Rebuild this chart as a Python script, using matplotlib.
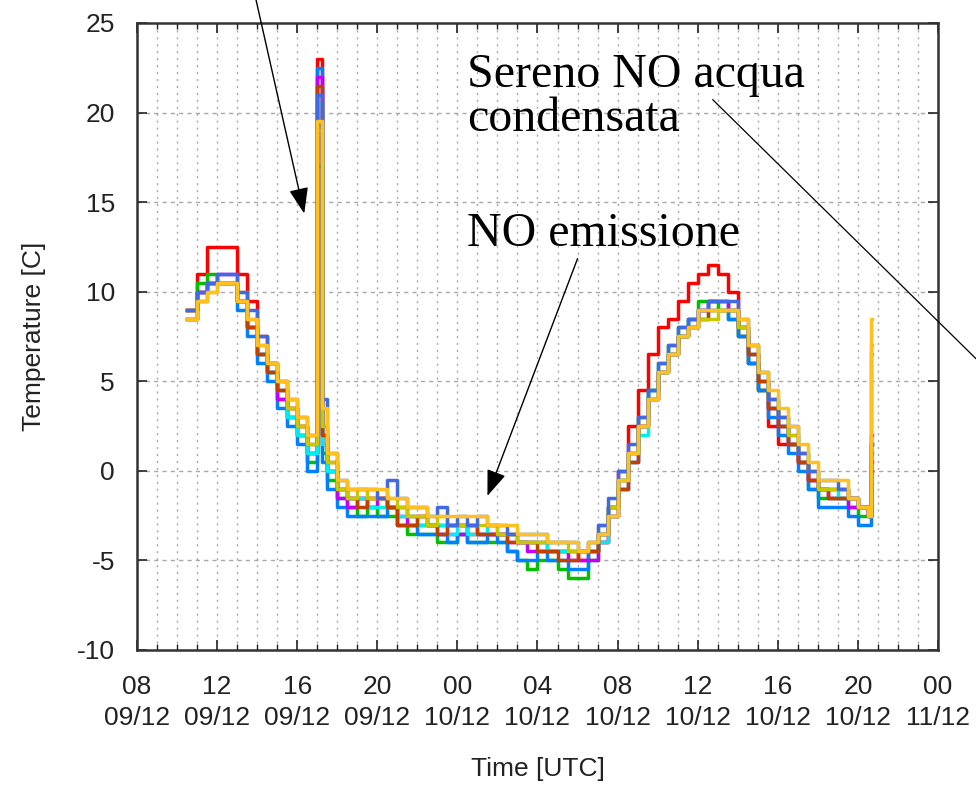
import matplotlib
matplotlib.use("Agg")
import matplotlib.pyplot as plt

plt.rcParams['font.family'] = ['Liberation Sans', 'DejaVu Sans']
plt.rcParams['axes.unicode_minus'] = False

# ore trascorse dalle 08 UTC del 09/12
hours = [2.5, 3.0, 3.5, 4.0, 4.5, 5.0, 5.5, 6.0, 6.5, 7.0, 7.5, 8.0, 8.5, 9.0,
         9.25,
         9.5, 10.0, 10.5, 11.0, 11.5, 12.0, 12.5, 13.0, 13.5, 14.0, 14.5,
         15.0, 15.5, 16.0, 16.5, 17.0, 17.5, 18.0, 18.5, 19.0, 19.5, 20.0,
         20.5, 21.0, 21.5, 22.0, 22.5, 23.0, 23.5, 24.0, 24.5, 25.0, 25.5,
         26.0, 26.5, 27.0, 27.5, 28.0, 28.5, 29.0, 29.5, 30.0, 30.5, 31.0,
         31.5, 32.0, 32.5, 33.0, 33.5, 34.0, 34.5, 35.0, 35.5, 36.0, 36.5,
         36.65, 36.7]

# temperature dei sensori [C]
t_red = [9.0, 11.0, 12.5, 12.5, 12.5, 11.0, 9.5, 7.5, 6.0, 4.5, 3.5, 2.5, 1.0, 23.0,
         2.0,
         0.0, -1.0, -1.5, -1.5, -1.5, -1.5, -2.0, -2.0, -2.5, -2.5, -3.0,
         -3.0, -3.0, -3.0, -3.5, -3.5, -3.5, -3.5, -3.5, -4.0, -4.0, -4.0,
         -4.5, -4.5, -4.5, -5.0, -4.5, -4.0, -2.0, 0.0, 2.5, 4.5, 6.5,
         8.0, 8.5, 9.5, 10.5, 11.0, 11.5, 11.0, 10.0, 7.5, 6.0, 4.5,
         2.5, 1.5, 1.5, 0.5, -0.5, -1.0, -1.0, -1.0, -1.5, -2.0, -2.5,
         0.5, 0.5]
t_green = [9.0, 10.5, 11.0, 10.5, 10.5, 9.5, 8.0, 6.5, 5.5, 4.0, 3.0, 2.0, 0.5, 17.0,
           1.0,
           -0.5, -1.5, -2.0, -2.5, -2.0, -2.5, -2.5, -3.0, -3.5, -3.5, -3.5,
           -4.0, -4.0, -3.5, -4.0, -4.0, -4.0, -4.0, -4.5, -5.0, -5.5, -5.0,
           -5.0, -5.5, -6.0, -6.0, -5.0, -3.5, -2.0, -0.5, 1.0, 3.0, 4.5,
           6.0, 7.0, 8.0, 8.5, 9.5, 9.5, 9.0, 8.5, 7.5, 6.0, 4.5,
           3.5, 2.5, 1.5, 0.5, -1.0, -1.5, -1.5, -1.5, -2.0, -2.5, -2.5,
           1.0, 1.0]
t_blue = [8.5, 10.0, 10.5, 10.5, 10.5, 9.0, 7.5, 6.0, 5.0, 3.5, 2.5, 1.5, 0.0, 22.5,
          0.5,
          -1.0, -2.0, -2.5, -2.5, -2.5, -2.5, -2.0, -3.0, -3.0, -3.5, -3.5,
          -3.5, -4.0, -3.5, -4.0, -4.0, -3.5, -4.0, -4.5, -5.0, -5.0, -4.5,
          -5.0, -5.0, -5.5, -5.5, -4.5, -3.5, -2.0, -0.5, 1.0, 2.5, 4.5,
          5.5, 6.5, 7.5, 8.5, 9.0, 9.5, 9.5, 8.5, 7.5, 6.0, 4.5,
          3.0, 2.0, 1.0, 0.0, -1.0, -2.0, -2.0, -2.0, -2.5, -3.0, -3.0,
          1.5, 1.5]
t_magenta = [8.5, 10.0, 10.5, 11.0, 11.0, 9.5, 8.0, 6.5, 5.5, 4.0, 3.0, 2.0, 1.0, 22.0,
             1.5,
             0.0, -1.5, -2.0, -1.5, -2.0, -1.5, -2.0, -2.5, -3.0, -3.0, -3.0,
             -3.5, -3.5, -3.5, -3.0, -3.5, -3.5, -3.5, -4.0, -4.0, -4.5, -4.5,
             -4.5, -4.5, -5.0, -5.0, -5.0, -4.0, -2.5, -1.0, 0.5, 2.5, 4.0,
             5.5, 6.5, 7.5, 8.0, 9.0, 9.5, 9.5, 9.0, 8.0, 6.5, 5.0,
             3.5, 2.5, 1.5, 0.5, -0.5, -1.0, -1.5, -1.5, -2.0, -2.0, -2.5,
             2.0, 2.0]
t_cyan = [8.5, 9.5, 10.5, 10.5, 10.5, 9.5, 8.0, 6.5, 5.5, 4.5, 3.0, 2.0, 1.0, 20.5,
          1.5,
          0.0, -1.0, -1.5, -1.5, -2.0, -2.0, -2.0, -2.5, -2.5, -3.0, -3.0,
          -3.0, -3.5, -3.0, -3.5, -3.5, -3.0, -3.5, -3.5, -4.0, -4.0, -4.0,
          -4.5, -4.5, -4.5, -4.5, -4.5, -4.0, -2.5, -1.0, 0.5, 2.0, 4.0,
          5.5, 6.5, 7.5, 8.0, 8.5, 9.0, 9.0, 9.0, 8.0, 6.5, 5.0,
          4.0, 3.0, 2.0, 1.0, 0.0, -1.0, -1.0, -1.5, -1.5, -2.0, -2.5,
          6.5, 6.5]
t_brown = [9.0, 10.0, 10.5, 10.5, 10.5, 9.5, 8.0, 6.5, 5.5, 4.5, 3.5, 2.5, 1.5, 21.5,
           2.0,
           0.5, -1.0, -1.5, -2.0, -1.5, -1.5, -2.0, -3.0, -3.0, -2.5, -3.0,
           -3.5, -3.0, -3.0, -3.0, -3.5, -3.5, -3.5, -4.0, -4.0, -4.0, -4.5,
           -4.5, -5.0, -5.0, -4.5, -4.5, -3.5, -2.5, -1.0, 0.5, 2.5, 4.0,
           5.5, 6.5, 7.5, 8.0, 8.5, 9.0, 9.0, 9.0, 8.0, 6.5, 5.0,
           3.5, 2.5, 1.5, 0.5, -0.5, -1.0, -1.5, -1.5, -1.5, -2.0, -2.5,
           0.0, 0.0]
t_olive = [8.5, 9.5, 10.0, 10.5, 10.5, 10.0, 8.5, 7.0, 6.0, 5.0, 3.5, 2.5, 1.5, 19.0,
           2.5,
           0.5, -1.0, -1.5, -1.0, -1.5, -1.5, -1.5, -2.0, -2.5, -2.5, -3.0,
           -2.5, -3.0, -3.0, -3.0, -3.0, -3.0, -3.5, -3.5, -4.0, -4.0, -4.0,
           -4.0, -4.0, -4.5, -4.5, -4.0, -3.0, -2.0, -0.5, 1.0, 2.5, 4.0,
           5.5, 6.5, 7.5, 8.0, 8.5, 8.5, 9.0, 9.0, 8.0, 7.0, 5.5,
           4.0, 3.0, 2.0, 1.0, 0.0, -1.0, -1.0, -1.0, -1.5, -2.0, -2.0,
           7.0, 7.0]
t_royal = [9.0, 10.0, 10.5, 11.0, 11.0, 10.0, 9.0, 7.5, 6.0, 5.0, 4.0, 3.0, 2.0, 21.0,
           4.0,
           1.0, -0.5, -1.0, -1.0, -1.0, -1.5, -0.5, -1.5, -2.0, -2.0, -2.5,
           -2.0, -3.0, -2.5, -3.0, -2.5, -3.0, -3.0, -3.5, -3.5, -3.5, -3.5,
           -4.0, -4.0, -4.0, -4.5, -4.0, -3.0, -1.5, 0.0, 1.5, 3.0, 4.5,
           6.0, 7.0, 8.0, 8.5, 9.0, 9.5, 9.5, 9.5, 8.5, 7.0, 5.5,
           4.0, 3.0, 2.5, 1.0, 0.0, -0.5, -0.5, -1.0, -1.5, -2.0, -2.5,
           1.5, 1.5]
t_orange = [8.5, 9.5, 10.0, 10.5, 10.5, 9.5, 8.5, 7.0, 6.0, 5.0, 4.0, 3.0, 2.0, 19.5,
            3.5,
            1.0, -0.5, -1.0, -1.0, -1.0, -1.0, -1.5, -1.5, -2.0, -2.0, -2.5,
            -2.5, -2.5, -2.5, -2.5, -2.5, -3.0, -3.0, -3.0, -3.5, -3.5, -3.5,
            -4.0, -4.0, -4.0, -4.5, -4.0, -3.5, -2.5, -0.5, 1.0, 2.5, 4.0,
            5.5, 6.5, 7.5, 8.0, 9.0, 9.0, 9.0, 9.0, 8.5, 7.0, 5.5,
            4.5, 3.5, 2.5, 1.5, 0.5, -0.5, -0.5, -0.5, -1.5, -2.0, -2.5,
            8.5, 8.5]

series = [t_red, t_green, t_blue, t_magenta, t_cyan, t_brown, t_olive, t_royal, t_orange]
colors = ['#ff0000', '#00c000', '#0080ff', '#c000ff', '#00eeee',
          '#c04000', '#c8c800', '#4169e1', '#ffc020']

tick_hours = [0, 4, 8, 12, 16, 20, 24, 28, 32, 36, 40]
tick_labels = ['08\n09/12', '12\n09/12', '16\n09/12', '20\n09/12', '00\n10/12',
               '04\n10/12', '08\n10/12', '12\n10/12', '16\n10/12', '20\n10/12',
               '00\n11/12']

fig = plt.figure(figsize=(9.76, 7.85), dpi=100)
ax = fig.add_axes([0.1404, 0.172, 0.8206, 0.7988])

# griglia: tratteggio verticale ogni ora, orizzontale ogni 5 gradi
for h in range(1, 40):
    ax.axvline(h, color='#a8a8a8', lw=1.0, linestyle=(0, (1.5, 3.5)), zorder=0)
for v in [-5, 0, 5, 10, 15, 20]:
    ax.axhline(v, color='#a8a8a8', lw=1.0, linestyle=(0, (3, 3)), zorder=0)

for vals, c in zip(series, colors):
    ax.plot(hours, vals, drawstyle='steps-post', color=c, lw=2.5)

ax.set_xlim(0, 40)
ax.set_ylim(-10, 25)
ax.set_xticks(tick_hours)
ax.set_xticklabels(tick_labels, linespacing=1.35)
ax.set_xticks(range(0, 41), minor=True)
ax.set_yticks([-10, -5, 0, 5, 10, 15, 20, 25])

ax.tick_params(axis='both', which='major', direction='in', length=7, width=1.2,
               top=True, right=True, labelsize=19, colors='#222222')
ax.tick_params(axis='x', which='minor', direction='in', length=4, width=1.0,
               top=True, bottom=True, color='#222222')
ax.tick_params(axis='x', which='major', pad=18)
ax.tick_params(axis='y', which='major', pad=16)
for s in ax.spines.values():
    s.set_linewidth(1.8)
    s.set_color('#333333')

ax.set_xlabel('Time [UTC]', fontsize=19, color='#222222', labelpad=20)
ax.set_ylabel('Temperature [C]', fontsize=19, color='#222222', labelpad=22)

# annotazioni
serif = ['Liberation Serif', 'DejaVu Serif']
ax.text(16.5, 23.3, 'Sereno NO acqua\ncondensata', family=serif, fontsize=34.5,
        va='top', ha='left', linespacing=1.0)
ax.text(16.5, 12.0, 'NO emissione', family=serif, fontsize=34.5, va='bottom', ha='left')

ax.annotate('', xy=(8.35, 14.36), xytext=(5.9, 26.5), annotation_clip=False,
            arrowprops=dict(arrowstyle='-|>,head_length=1.6,head_width=0.6',
                            color='black', lw=1.0, shrinkA=0, shrinkB=0))
ax.annotate('', xy=(17.5, -1.4), xytext=(22.0, 11.84), annotation_clip=False,
            arrowprops=dict(arrowstyle='-|>,head_length=1.6,head_width=0.6',
                            color='black', lw=1.0, shrinkA=0, shrinkB=0))
ax.annotate('', xy=(43.5, 4.5), xytext=(28.75, 20.72), annotation_clip=False,
            arrowprops=dict(arrowstyle='-', color='black', lw=0.9,
                            shrinkA=0, shrinkB=0))

fig.savefig('out.png', dpi=100)
